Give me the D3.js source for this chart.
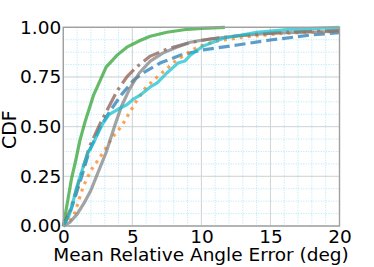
<!DOCTYPE html>
<html><head><meta charset="utf-8">
<script src="https://cdn.jsdelivr.net/npm/d3@7"></script>
<style>body{margin:0;background:#fff}svg{display:block}text{font-family:"DejaVu Sans",sans-serif;fill:#000}</style>
</head><body><svg id="c" width="374" height="267"></svg>
<script>
const xTicks = [0, 5, 10, 15, 20];
const yTicks = [0, 0.25, 0.5, 0.75, 1.0];
const yTickLabels = ["0.00", "0.25", "0.50", "0.75", "1.00"];
const xLabel = "Mean Relative Angle Error (deg)";
const yLabel = "CDF";

const blueDashed = [[0,0],[0.5,0.07],[1.2,0.22],[1.9,0.38],[2.7,0.5],[3.4,0.58],[4.2,0.66],[5.1,0.735],[6,0.78],[7,0.82],[8.5,0.86],[10.1,0.886],[12.6,0.911],[15,0.936],[17.9,0.961],[20,0.973]];
const orangeDotted = [[0,0],[0.5,0.03],[0.85,0.07],[1.45,0.2],[2.0,0.28],[2.7,0.35],[3.6,0.45],[4.2,0.5],[5.3,0.63],[6.0,0.7],[6.8,0.75],[8.2,0.835],[9.7,0.9],[11,0.93],[13,0.95],[16,0.97],[20,0.98]];
const greenSolid = [[0,0],[0.3,0.12],[0.6,0.24],[0.9,0.33],[1.2,0.43],[1.6,0.53],[2.2,0.66],[3.1,0.8],[3.9,0.86],[4.6,0.9],[5.6,0.935],[6.3,0.955],[7.5,0.975],[9,0.99],[10,0.995],[11.7,1.0]];
const brownDashDot = [[0,0],[0.5,0.08],[1.2,0.24],[1.9,0.4],[2.7,0.52],[3.3,0.6],[3.9,0.68],[4.6,0.75],[5.3,0.8],[6.3,0.855],[7.5,0.89],[9,0.92],[10.5,0.94],[13,0.96],[16,0.975],[20,0.985]];
const graySolid = [[0,0],[0.5,0.02],[1.0,0.06],[1.5,0.115],[2.0,0.18],[2.4,0.25],[3.1,0.37],[3.7,0.5],[4.2,0.6],[4.8,0.69],[5.5,0.77],[6.3,0.83],[7.2,0.87],[8.2,0.9],[9.2,0.925],[10,0.935],[12.3,0.955],[15,0.97],[20,0.98]];
const cyanSolid = [[0,0],[0.4,0.05],[0.7,0.12],[1.0,0.2],[1.45,0.3],[1.8,0.37],[2.2,0.42],[2.6,0.48],[2.9,0.52],[3.3,0.56],[3.9,0.585],[4.6,0.61],[5.1,0.64],[5.6,0.66],[6.3,0.7],[6.8,0.72],[7.5,0.77],[8.3,0.82],[8.8,0.83],[9.2,0.86],[10.1,0.905],[11.6,0.945],[14,0.975],[16.4,0.99],[20,1.0]];

const series = [
  {data: blueDashed, color: "#1f77b4", dash: "11,5"},
  {data: orangeDotted, color: "#ff7f0e", dash: "3,5"},
  {data: greenSolid, color: "#2ca02c", dash: null},
  {data: brownDashDot, color: "#8c564b", dash: "18,5,3,5"},
  {data: graySolid, color: "#7f7f7f", dash: null},
  {data: cyanSolid, color: "#17becf", dash: null}
];

const svg = d3.select("#c");
const L = 63.3, R = 339.5, T = 27.3, B = 226;
const x = d3.scaleLinear().domain([0, 20]).range([L, R]);
const y = d3.scaleLinear().domain([0, 1]).range([B, T]);

const g = svg.append("g");
const xMinor = d3.range(0, 20.01, 1);
const yMinor = d3.range(0, 1.001, 0.0625);
g.selectAll(".mx").data(xMinor).enter().append("line")
  .attr("x1", d => x(d)).attr("x2", d => x(d)).attr("y1", T).attr("y2", B)
  .attr("stroke", "#a8e4f6").attr("stroke-width", 0.9).attr("stroke-dasharray", "1,1.5");
g.selectAll(".my").data(yMinor).enter().append("line")
  .attr("y1", d => y(d)).attr("y2", d => y(d)).attr("x1", L).attr("x2", R)
  .attr("stroke", "#a8e4f6").attr("stroke-width", 0.9).attr("stroke-dasharray", "1,1.5");
g.selectAll(".gx").data(xTicks).enter().append("line")
  .attr("x1", d => x(d)).attr("x2", d => x(d)).attr("y1", T).attr("y2", B)
  .attr("stroke", "#d4d4d4").attr("stroke-width", 1);
g.selectAll(".gy").data(yTicks).enter().append("line")
  .attr("y1", d => y(d)).attr("y2", d => y(d)).attr("x1", L).attr("x2", R)
  .attr("stroke", "#d4d4d4").attr("stroke-width", 1);

const line = d3.line().x(d => x(d[0])).y(d => y(d[1]));
series.forEach(s => {
  svg.append("path").attr("d", line(s.data)).attr("fill", "none")
    .attr("stroke", s.color).attr("stroke-opacity", 0.72).attr("stroke-width", 3.2)
    .attr("stroke-dasharray", s.dash).attr("stroke-linejoin", "round");
});

svg.append("rect").attr("x", L).attr("y", T).attr("width", R - L).attr("height", B - T)
  .attr("fill", "none").attr("stroke", "#a0a0a0").attr("stroke-width", 1.4);

const xAxis = d3.axisBottom(x).tickValues(xTicks).tickSize(0).tickPadding(4).tickFormat(d3.format("d"));
const xa = svg.append("g").attr("transform", `translate(0,${B})`).call(xAxis);
xa.select(".domain").remove();
xa.selectAll("text").attr("font-size", 18.5).attr("font-family", "DejaVu Sans").attr("fill", "#000");
const yAxis = d3.axisLeft(y).tickValues(yTicks).tickSize(0).tickPadding(2).tickFormat((d, i) => yTickLabels[i]);
const ya = svg.append("g").attr("transform", `translate(${L},0)`).call(yAxis);
ya.select(".domain").remove();
ya.selectAll("text").attr("font-size", 18.5).attr("font-family", "DejaVu Sans").attr("fill", "#000");

svg.append("text").attr("x", 201).attr("y", 261).attr("text-anchor", "middle")
  .attr("font-size", 18.5).text(xLabel);
svg.append("text").attr("transform", `translate(16,${(T + B) / 2 + 3}) rotate(-90)`)
  .attr("text-anchor", "middle").attr("font-size", 19).text(yLabel);
</script></body></html>
